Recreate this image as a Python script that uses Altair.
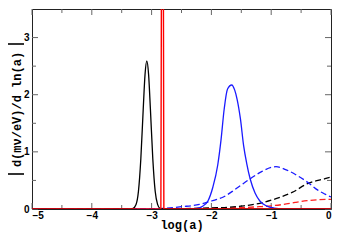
import altair as alt
import pandas as pd

# ---- data ----
black_solid_x = [-5, -3.40, -3.32, -3.26, -3.22, -3.18, -3.14, -3.11, -3.08, -3.05, -3.02, -2.98, -2.94, -2.90, -2.86, -2.82, 0]
black_solid_y = [0, 0, 0.005, 0.08, 0.31, 0.88, 1.75, 2.35, 2.59, 2.35, 1.75, 0.88, 0.31, 0.08, 0.01, 0, 0]

red_solid_x = [-5, -2.845, -2.833, -2.805, -2.795, 0]
red_solid_y = [0, 0, 5, 5, 0, 0]

blue_solid_x = [-5, -2.40, -2.245, -2.14, -2.06, -1.976, -1.894, -1.84, -1.786, -1.73, -1.66,
                -1.61, -1.57, -1.515, -1.46, -1.41, -1.35, -1.27, -1.19, -1.08, -0.95, -0.80, 0]
blue_solid_y = [0, 0, 0.01, 0.054, 0.136, 0.38, 0.77, 1.20, 1.75, 2.10, 2.17,
                2.08, 1.92, 1.58, 1.10, 0.80, 0.52, 0.28, 0.14, 0.054, 0.016, 0.003, 0]

blue_dash_x = [-5, -3.0, -2.8, -2.5, -2.2, -2.0, -1.8, -1.62, -1.5, -1.35, -1.16, -0.92, -0.76, -0.54, -0.38, -0.22, -0.10, 0]
blue_dash_y = [0, 0, 0.01, 0.04, 0.08, 0.14, 0.21, 0.33, 0.42, 0.53, 0.655, 0.74, 0.69, 0.57, 0.46, 0.33, 0.26, 0.21]

black_dash_x = [-5, -3.0, -2.5, -2.0, -1.73, -1.46, -1.19, -0.92, -0.65, -0.38, -0.10, 0]
black_dash_y = [0, 0, 0.005, 0.02, 0.03, 0.055, 0.10, 0.18, 0.29, 0.45, 0.53, 0.56]

red_dash_x = [-5, -3.0, -2.5, -2.0, -1.5, -1.2, -1.0, -0.8, -0.6, -0.4, -0.2, 0]
red_dash_y = [0, 0, 0.003, 0.01, 0.025, 0.04, 0.055, 0.08, 0.115, 0.145, 0.163, 0.17]

x_labels = [-5, -4, -3, -2, -1, 0]
y_labels = [0, 1, 2, 3]
x_minor = [-4.5, -3.5, -2.5, -1.5, -0.5]
y_minor = [0.5, 1.5, 2.5]

W, H = 299, 200
MONO = "Liberation Mono"
SANS = "Liberation Sans"

xscale = alt.Scale(domain=[-5, 0], nice=False, zero=False)
yscale = alt.Scale(domain=[0, 3.5], nice=False)

xaxis = alt.Axis(values=x_labels, tickSize=0, grid=False, domain=False, labelPadding=1,
                 labelFont=SANS, labelFontWeight="bold", labelFontSize=10, labelColor="#000",
                 title="log(a)", titleFont=MONO, titleFontWeight="bold", titleFontSize=12,
                 titleColor="#000", titleBaseline="alphabetic", titleY=19)
yaxis = alt.Axis(values=y_labels, tickSize=0, grid=False, domain=False, labelPadding=3,
                 labelFont=SANS, labelFontWeight="bold", labelFontSize=10, labelColor="#000",
                 title="d(mν/eV)/d ln(a)", titleFont=MONO, titleFontWeight="bold",
                 titleFontSize=12, titleColor="#000", titleAlign="center",
                 titleBaseline="middle", titleX=-16, titleY=100, titleAngle=270)


def curve(xs, ys, color, dash=None, interp="monotone", width=1.3):
    df = pd.DataFrame({"x": xs, "y": ys})
    kw = dict(color=color, strokeWidth=width, clip=True, interpolate=interp)
    if dash:
        kw["strokeDash"] = dash
    return alt.Chart(df).mark_line(**kw).encode(
        x=alt.X("x:Q", scale=xscale, axis=xaxis),
        y=alt.Y("y:Q", scale=yscale, axis=yaxis),
    )


layers = [
    curve(red_dash_x, red_dash_y, "#ff2020", dash=[6, 3]),
    curve(black_dash_x, black_dash_y, "#000000", dash=[6, 3]),
    curve(blue_dash_x, blue_dash_y, "#1a1aff", dash=[6, 3]),
    curve(blue_solid_x, blue_solid_y, "#1a1aff"),
    curve(black_solid_x, black_solid_y, "#000000"),
    curve(red_solid_x, red_solid_y, "#ff0000", interp="linear", width=1.4),
]

# inward ticks on all four sides
tick_color = "#666"
xmaj = pd.DataFrame({"v": x_labels})
xmin = pd.DataFrame({"v": x_minor})
ymaj = pd.DataFrame({"v": y_labels})
ymin = pd.DataFrame({"v": y_minor})


def xticks(df, length):
    base = alt.Chart(df).mark_rule(color=tick_color, strokeWidth=1)
    bottom = base.encode(x=alt.X("v:Q", scale=xscale, axis=xaxis), y=alt.value(H), y2=alt.value(H - length))
    top = base.encode(x=alt.X("v:Q", scale=xscale, axis=xaxis), y=alt.value(0), y2=alt.value(length))
    return [bottom, top]


def yticks(df, length):
    base = alt.Chart(df).mark_rule(color=tick_color, strokeWidth=1)
    left = base.encode(y=alt.Y("v:Q", scale=yscale, axis=yaxis), x=alt.value(0), x2=alt.value(length))
    right = base.encode(y=alt.Y("v:Q", scale=yscale, axis=yaxis), x=alt.value(W), x2=alt.value(W - length))
    return [left, right]


ticks = xticks(xmaj, 6) + xticks(xmin, 4) + yticks(ymaj, 6) + yticks(ymin, 4)

# absolute-value bars around the y title
bar_df = pd.DataFrame({"k": [0]})
bars = [
    alt.Chart(bar_df).mark_rule(color="#000", strokeWidth=1.6).encode(
        x=alt.value(-24), x2=alt.value(-8), y=alt.value(py))
    for py in (35, 165)
]

chart = alt.layer(*ticks, *layers, *bars).properties(
    width=W, height=H,
    autosize=alt.AutoSizeParams(type="none"),
    padding={"left": 24, "top": 1, "right": 3, "bottom": 23},
).configure_view(stroke="#222", strokeWidth=1)

chart.save("out.html", embed_options={"renderer": "svg", "actions": False})
